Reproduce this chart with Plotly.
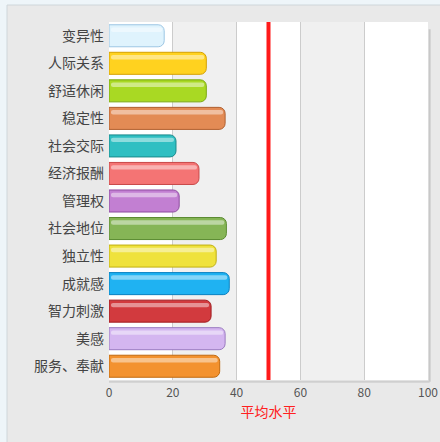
import plotly.graph_objects as go

categories = ["变异性", "人际关系", "舒适休闲", "稳定性", "社会交际", "经济报酬", "管理权",
              "社会地位", "独立性", "成就感", "智力刺激", "美感", "服务、奉献"]
values = [17.3, 30.5, 30.5, 36.4, 21, 28.2, 22, 36.8, 33.6, 37.7, 32, 36.4, 34.7]
fill_colors = ["#dff3fd", "#ffd21f", "#a9d923", "#e38b55", "#2fbfc2", "#f47474", "#c27fd2",
               "#86b556", "#efe23c", "#1fb2f2", "#d23a3e", "#d4b6f0", "#f3922f"]
line_colors = ["#9cc6e4", "#d4a000", "#7aa810", "#b06030", "#1a8a8c", "#c84848", "#8e4ea0",
               "#5a8a30", "#c0b010", "#0a80c0", "#a01c20", "#9a7ac0", "#c06a10"]
mean_value = 50
x_ticks = [0, 20, 40, 60, 80, 100]
x_title = "平均水平"

W, H = 440, 442
L, R, T, B = 109, 12, 22, 62
pw, ph = W - L - R, H - T - B

def px(p):
    return (p - L) / pw

def py(q):
    return 1 - (q - T) / ph

fig = go.Figure()
fig.add_trace(go.Bar(
    y=categories, x=values, orientation="h",
    marker=dict(color=fill_colors, line=dict(color=line_colors, width=1), cornerradius=6),
    width=0.8, hoverinfo="skip",
))
# glossy highlight
fig.add_trace(go.Bar(
    y=categories, x=[v - 1.2 for v in values], base=0.6, orientation="h",
    marker=dict(color="rgba(255,255,255,0.45)", line=dict(width=0), cornerradius=3),
    width=0.16, offset=-0.3, hoverinfo="skip",
))

shapes = []
# outer decorations
shapes.append(dict(type="rect", xref="paper", yref="paper", x0=px(0), x1=px(7), y0=py(H), y1=py(0),
                   fillcolor="#eef5f9", line=dict(width=0), layer="below"))
shapes.append(dict(type="rect", xref="paper", yref="paper", x0=px(0), x1=px(W), y0=py(5), y1=py(0),
                   fillcolor="#eef5f9", line=dict(width=0), layer="below"))
shapes.append(dict(type="line", xref="paper", yref="paper", x0=px(7), x1=px(7), y0=py(H), y1=py(5),
                   line=dict(color="#cfd6da", width=1), layer="below"))
shapes.append(dict(type="line", xref="paper", yref="paper", x0=px(7), x1=px(W), y0=py(5), y1=py(5),
                   line=dict(color="#cfd6da", width=1), layer="below"))
# bands
for i in range(len(x_ticks) - 1):
    if i % 2 == 1:
        shapes.append(dict(type="rect", xref="x", yref="paper", x0=x_ticks[i], x1=x_ticks[i + 1],
                           y0=0, y1=1, fillcolor="#f0f0f0", line=dict(width=0), layer="below"))
# mean line
shapes.append(dict(type="line", xref="x", yref="paper", x0=mean_value, x1=mean_value, y0=0, y1=1,
                   line=dict(color="#ff1a1a", width=4), layer="above"))
# plot shadow
shapes.append(dict(type="line", xref="paper", yref="paper", x0=1.005, x1=1.005, y0=-0.005, y1=0.98,
                   line=dict(color="#c8c8c8", width=2), layer="below"))
shapes.append(dict(type="line", xref="paper", yref="paper", x0=0.0, x1=1.005, y0=-0.005, y1=-0.005,
                   line=dict(color="#cfcfcf", width=2), layer="below"))

fig.update_layout(
    width=W, height=H,
    margin=dict(l=L, r=R, t=T, b=B, autoexpand=False),
    paper_bgcolor="#e9e9e9",
    plot_bgcolor="#ffffff",
    barmode="overlay",
    showlegend=False,
    font=dict(family="Noto Sans CJK SC", size=12, color="#444444"),
    shapes=shapes,
    xaxis=dict(range=[0, 100], tickvals=x_ticks, showgrid=True, gridcolor="#cccccc", gridwidth=1,
               zeroline=False, showline=False, ticks="", automargin=False, ticklabelstandoff=4,
               tickfont=dict(size=12, color="#555555"),
               title=dict(text=x_title, font=dict(color="#ff2020", size=14), standoff=8)),
    yaxis=dict(autorange="reversed", showgrid=False, zeroline=False, showline=False, ticks="",
               automargin=False, ticklabelstandoff=4, tickfont=dict(size=14, color="#444444")),
)

fig.write_html("out.html", config={"displayModeBar": False},
               post_script="document.body.style.margin='0';document.body.style.overflow='hidden';")
